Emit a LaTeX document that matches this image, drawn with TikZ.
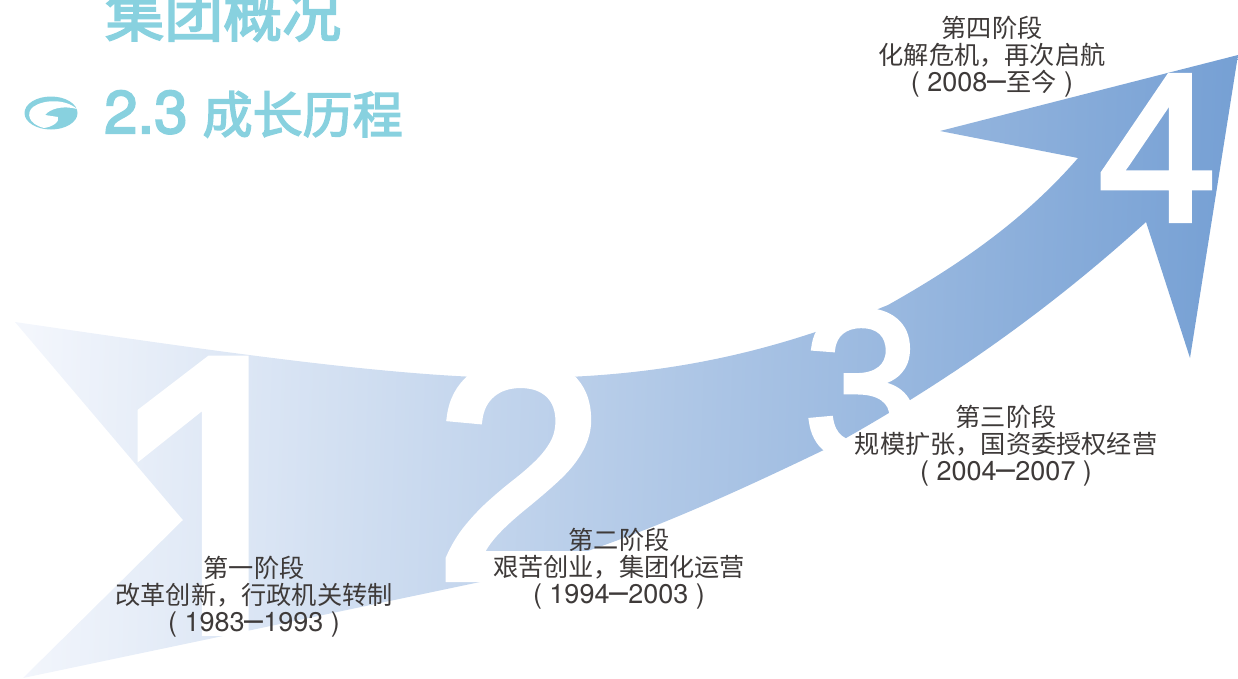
\documentclass[tikz,border=0pt]{standalone}
\usepackage{fontspec}
\setmainfont{TeX Gyre Heros}
\newfontfamily\cjkFont{Noto Sans CJK SC}
\newfontfamily\headFont[FakeBold=3]{Noto Sans CJK SC}
\newfontfamily\digitFont[FakeBold=2.5]{Liberation Sans}
\newfontfamily\latinFont{TeX Gyre Heros}
\newfontfamily\headLatinFont[FakeBold=3]{TeX Gyre Heros}
\definecolor{titleTeal}{HTML}{88D1DF}
\definecolor{labelGrey}{HTML}{3E3A39}
\definecolor{arrowStart}{HTML}{F3F6FC}
\definecolor{arrowMiddle}{HTML}{BCCFEA}
\definecolor{arrowEnd}{HTML}{76A0D4}
\newcommand{\labelSize}{25.2}
\newcommand{\labelSkip}{27}
\newcommand{\yearDash}{{\fontsize{34}{27}\selectfont –}}
\newcommand{\yearText}[1]{{\latinFont\fontsize{27}{27}\selectfont #1}}
\tikzset{
    stageLabel/.style={align=center, text=labelGrey, inner sep=0pt, font=\cjkFont\fontsize{\labelSize}{\labelSkip}\selectfont},
    stageDigit/.style={text=white, inner sep=0pt, font=\digitFont},
    headLine/.style={text=titleTeal, inner sep=0pt, anchor=west}
}
\begin{document}
\begin{tikzpicture}[x=1pt,y=-1pt]
    \useasboundingbox (0,0) rectangle (1238,678);

    % Arrow
    \shade[left color=arrowStart, middle color=arrowMiddle, right color=arrowEnd, shading angle=88]
        (15,322) .. controls (220,352) and (400,378) .. (520,378)
        .. controls (680,378) and (790,345) .. (888,305)
        .. controls (950,270) and (1020,225) .. (1078,158)
        -- (940,131) -- (1238,55) -- (1190,358) -- (1146,222)
        .. controls (1060,300) and (960,375) .. (830,447)
        .. controls (720,500) and (600,555) .. (480,582)
        -- (23,678) -- (183,520) -- cycle;

    % Big digits
    \begin{scope}
        \clip (100,340) rectangle (300,635);
        \node[stageDigit, xscale=1.05, yscale=1.17] (digitOne) at (218,520) {\fontsize{394}{394}\selectfont 1};
    \end{scope}
    \node[stageDigit] (digitTwo) at (520,470) {\fontsize{310}{310}\selectfont 2};
    \node[stageDigit] (digitThree) at (862,385) {\fontsize{211}{211}\selectfont 3};
    \node[stageDigit] (digitFour) at (1157,148) {\fontsize{211}{211}\selectfont 4};

    % Stage labels
    \node[stageLabel] (labelOne) at (254,597) {第一阶段\\改革创新，行政机关转制\\\yearText{( 1983\yearDash 1993 )}};
    \node[stageLabel] (labelTwo) at (619,569) {第二阶段\\艰苦创业，集团化运营\\\yearText{( 1994\yearDash 2003 )}};
    \node[stageLabel] (labelThree) at (1006,446) {第三阶段\\规模扩张，国资委授权经营\\\yearText{( 2004\yearDash 2007 )}};
    \node[stageLabel] (labelFour) at (992,57) {第四阶段\\化解危机，再次启航\\\yearText{( 2008\yearDash}至今\yearText{ )}};

    % Heading
    \node[headLine, font=\headFont\fontsize{59}{59}\selectfont] (mainTitle) at (105,14) {集团概况};
    \node[headLine, font=\headFont\fontsize{50}{50}\selectfont] (subTitle) at (104,114) {{\headLatinFont\fontsize{60}{60}\selectfont 2.3\hspace{15pt}}成长历程};

    % Logo
    \fill[titleTeal] (51,113) ellipse [x radius=26.5, y radius=16.5];
    \fill[white] (77,109) .. controls (66,99) and (44,99) .. (33,107)
        .. controls (26,113) and (28,124) .. (44,128)
        .. controls (52,127) and (60,122) .. (58,117)
        -- (45,115) .. controls (50,109) and (62,105) .. (77,109) -- cycle;
\end{tikzpicture}
\end{document}
